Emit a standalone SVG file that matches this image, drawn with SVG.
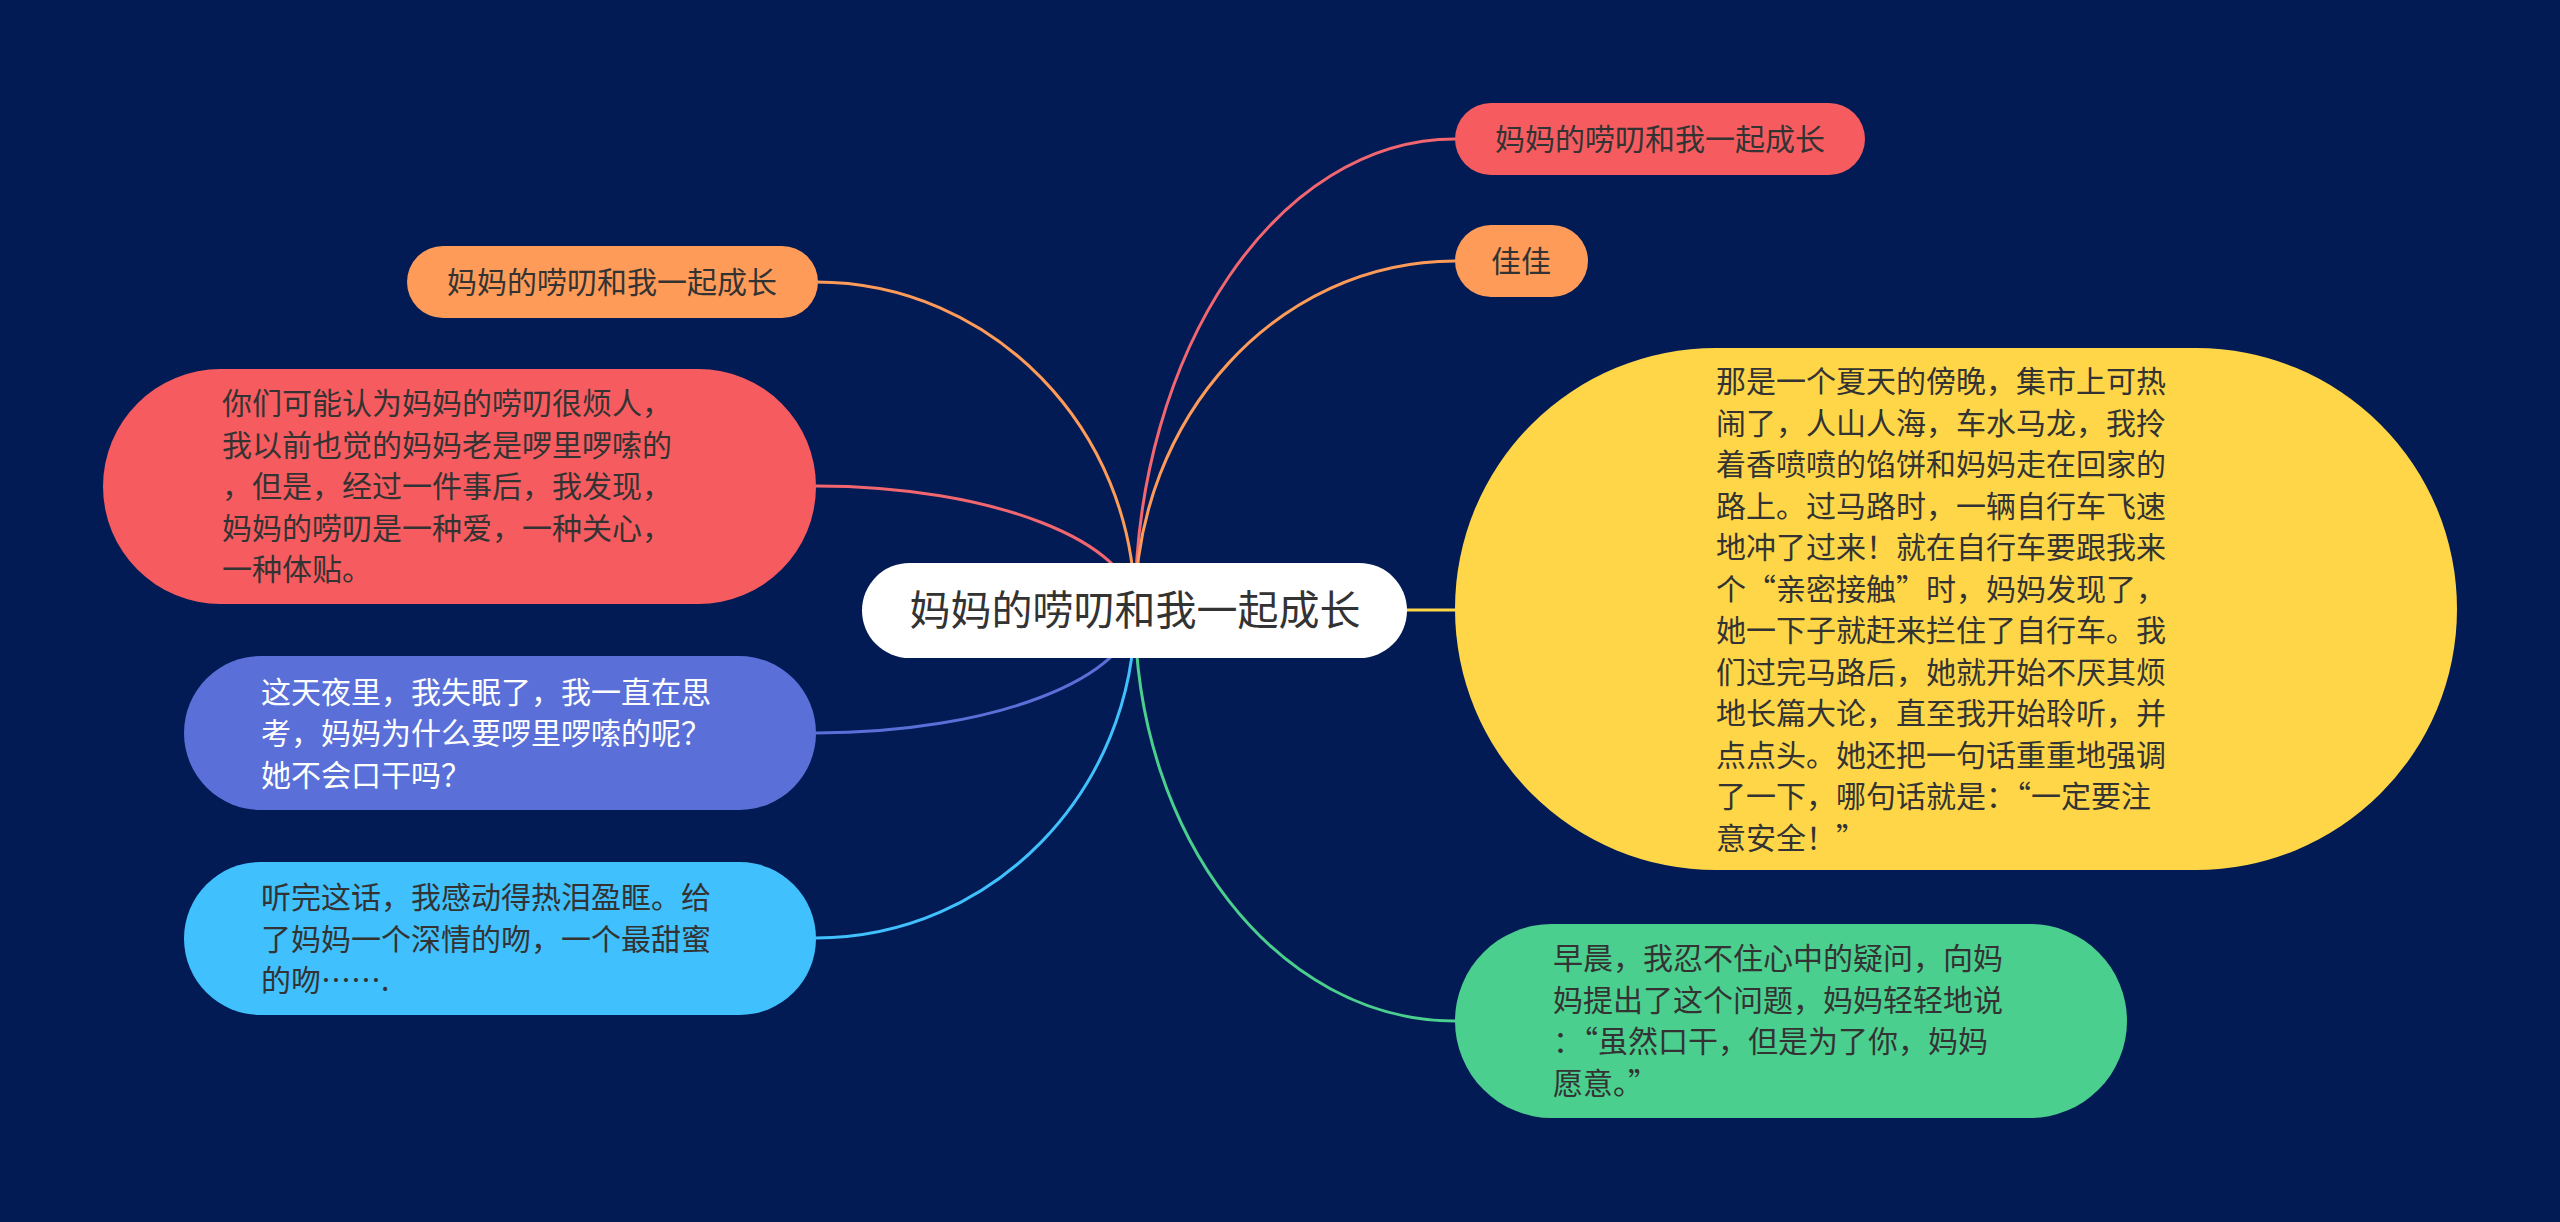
<svg xmlns="http://www.w3.org/2000/svg" width="2560" height="1222" viewBox="0 0 2560 1222">
<style>
.t{font-family:"Noto Sans CJK SC","Noto Sans",sans-serif;font-size:30px;fill:#333333}
.c{text-anchor:middle}
.w{fill:#ffffff}
.fw{font-feature-settings:"fwid"}
.ln{fill:none;stroke-width:3;stroke-linecap:round}
</style>
<rect x="0" y="0" width="2560" height="1222" fill="#021B55"/>
<g id="connectors">
<path class="ln" stroke="#F2666F" d="M1135 610 C1135 350 1278 139 1455 139"/>
<path class="ln" stroke="#FE9B59" d="M1135 610 C1135 417 1278 261 1455 261"/>
<path class="ln" stroke="#FED648" d="M1135 610 L1455 610"/>
<path class="ln" stroke="#4BCF8E" d="M1135 610 C1135 837 1278 1021 1455 1021"/>
<path class="ln" stroke="#FE9B59" d="M1135 610 C1135 429 992 282 816 282"/>
<path class="ln" stroke="#F2666F" d="M1135 610 C1135 542 992 486 816 486"/>
<path class="ln" stroke="#5A70D8" d="M1135 610 C1135 678 992 733 816 733"/>
<path class="ln" stroke="#40C0FC" d="M1135 610 C1135 791 992 938 816 938"/>
</g>
<g id="center">
<rect x="862" y="563" width="545" height="95" rx="47.5" fill="#FFFFFF"/>
<text class="t c" x="1135" y="625" style="font-size:41px">妈妈的唠叨和我一起成长</text>
</g>
<g id="n-tr-red">
<rect x="1455" y="103" width="410" height="72" rx="36" fill="#F65C5F"/>
<text class="t c" x="1660" y="150">妈妈的唠叨和我一起成长</text>
</g>
<g id="n-tr-orange">
<rect x="1455" y="225" width="133" height="72" rx="36" fill="#FE9B59"/>
<text class="t c" x="1521" y="272">佳佳</text>
</g>
<g id="n-yellow">
<rect x="1455" y="348" width="1002" height="522" rx="261" fill="#FED648"/>
<text class="t" x="1716" y="392">那是一个夏天的傍晚，集市上可热</text>
<text class="t" x="1716" y="433.5">闹了，人山人海，车水马龙，我拎</text>
<text class="t" x="1716" y="475">着香喷喷的馅饼和妈妈走在回家的</text>
<text class="t" x="1716" y="516.5">路上。过马路时，一辆自行车飞速</text>
<text class="t" x="1716" y="558">地冲了过来！就在自行车要跟我来</text>
<text class="t fw" x="1716" y="599.5">个“亲密接触”时，妈妈发现了，</text>
<text class="t" x="1716" y="641">她一下子就赶来拦住了自行车。我</text>
<text class="t" x="1716" y="682.5">们过完马路后，她就开始不厌其烦</text>
<text class="t" x="1716" y="724">地长篇大论，直至我开始聆听，并</text>
<text class="t" x="1716" y="765.5">点点头。她还把一句话重重地强调</text>
<text class="t fw" x="1716" y="807">了一下，哪句话就是：“一定要注</text>
<text class="t fw" x="1716" y="848.5">意安全！”</text>
</g>
<g id="n-green">
<rect x="1455" y="924" width="672" height="194" rx="97" fill="#4BCF8E"/>
<text class="t" x="1553" y="969">早晨，我忍不住心中的疑问，向妈</text>
<text class="t" x="1553" y="1010.5">妈提出了这个问题，妈妈轻轻地说</text>
<text class="t fw" x="1553" y="1052">：“虽然口干，但是为了你，妈妈</text>
<text class="t fw" x="1553" y="1093.5">愿意。”</text>
</g>
<g id="n-tl-orange">
<rect x="407" y="246" width="411" height="72" rx="36" fill="#FE9B59"/>
<text class="t c" x="612" y="293">妈妈的唠叨和我一起成长</text>
</g>
<g id="n-left-red">
<rect x="103" y="369" width="713" height="235" rx="117.5" fill="#F65C5F"/>
<text class="t" x="222" y="414">你们可能认为妈妈的唠叨很烦人，</text>
<text class="t" x="222" y="455.5">我以前也觉的妈妈老是啰里啰嗦的</text>
<text class="t" x="222" y="497">，但是，经过一件事后，我发现，</text>
<text class="t" x="222" y="538.5">妈妈的唠叨是一种爱，一种关心，</text>
<text class="t" x="222" y="580">一种体贴。</text>
</g>
<g id="n-purple">
<rect x="184" y="656" width="632" height="154" rx="77" fill="#5A70D8"/>
<text class="t w" x="261" y="702.5">这天夜里，我失眠了，我一直在思</text>
<text class="t w" x="261" y="744">考，妈妈为什么要啰里啰嗦的呢？</text>
<text class="t w" x="261" y="785.5">她不会口干吗？</text>
</g>
<g id="n-lightblue">
<rect x="184" y="862" width="632" height="153" rx="76.5" fill="#40C0FC"/>
<text class="t" x="261" y="908">听完这话，我感动得热泪盈眶。给</text>
<text class="t" x="261" y="949.5">了妈妈一个深情的吻，一个最甜蜜</text>
<text class="t" x="261" y="991">的吻…….</text>
</g>
</svg>
